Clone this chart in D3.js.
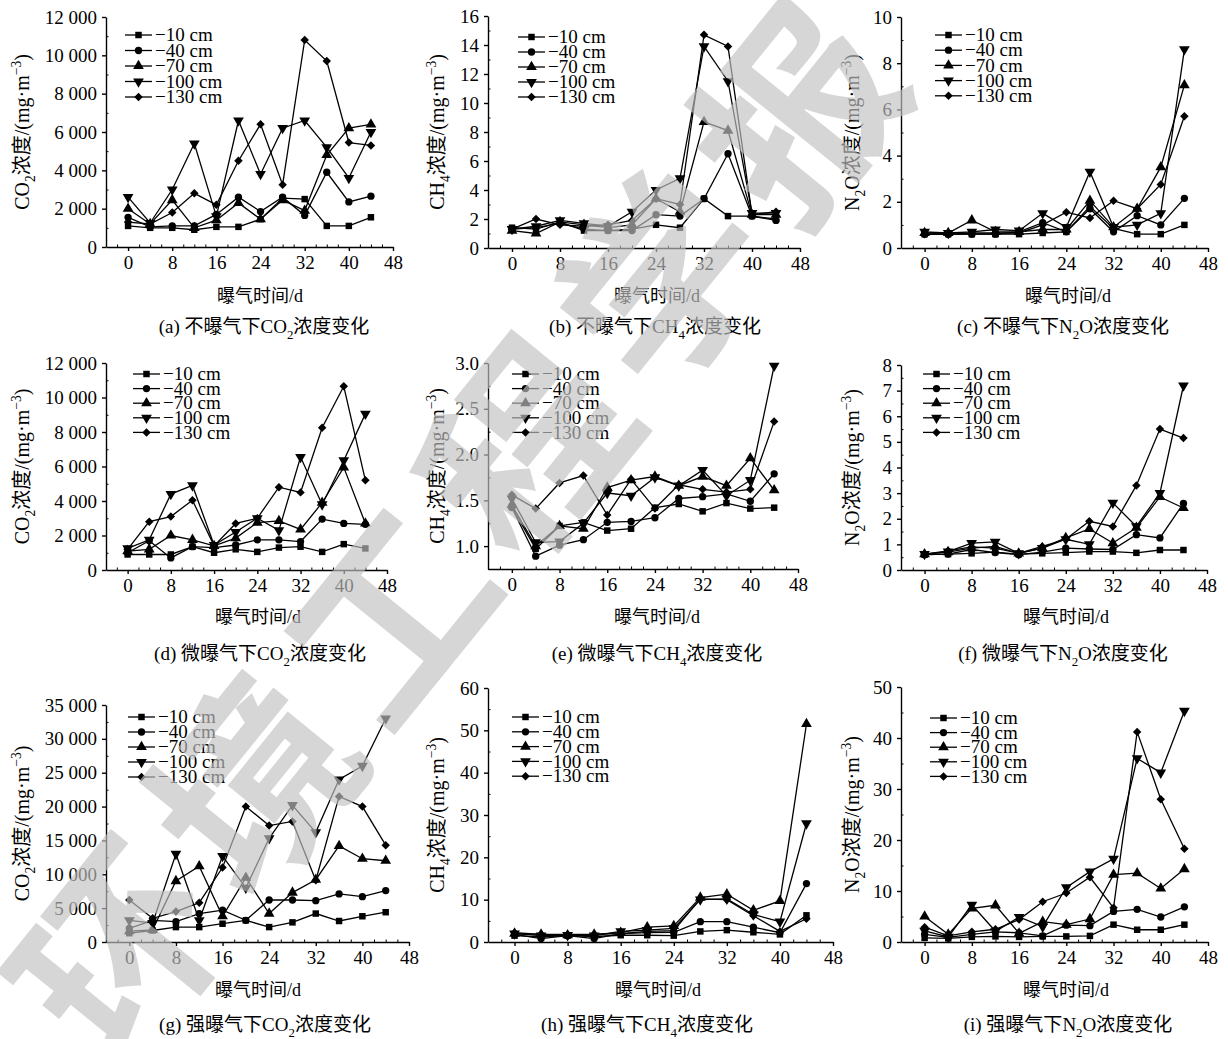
<!DOCTYPE html>
<html>
<head>
<meta charset="utf-8">
<script src="https://cdn.jsdelivr.net/npm/d3@7"></script>
<style>
body { margin: 0; background: #fff; }
svg { display: block; }
text { font-family: "Liberation Serif", "Noto Sans CJK SC", serif; }
</style>
</head>
<body>
<svg id="chart" width="1228" height="1039"></svg>
<script>
var days = [0, 4, 8, 12, 16, 20, 24, 28, 32, 36, 40, 44];
var depthLabels = ["\u221210 cm", "\u221240 cm", "\u221270 cm", "\u2212100 cm", "\u2212130 cm"];
var xTicks = [0, 8, 16, 24, 32, 40, 48];

// (a) 不曝气 CO2
var co2None = [
    [1100, 1000, 1000, 900, 1050, 1050, 1450, 2550, 2500, 1100, 1100, 1550],
    [1550, 1050, 1100, 1100, 1700, 2600, 1850, 2600, 1650, 3900, 2350, 2650],
    [2000, 1200, 2450, 1000, 1400, 2300, 1450, 2450, 1900, 4800, 6200, 6400],
    [2600, 1250, 3000, 5400, 1600, 6600, 3800, 6200, 6600, 5200, 3600, 6000],
    [1300, 1200, 1800, 2800, 2200, 4500, 6400, 3250, 10800, 9700, 5450, 5300]
];
// (b) 不曝气 CH4
var ch4None = [
    [1.4, 1.3, 1.8, 1.2, 1.2, 1.3, 1.6, 1.4, 3.4, 2.2, 2.2, 2.0],
    [1.3, 1.4, 1.7, 1.3, 1.2, 1.2, 2.3, 2.2, 3.4, 6.5, 2.2, 1.9],
    [1.2, 1.0, 1.8, 1.6, 1.4, 1.6, 3.4, 2.5, 8.7, 8.1, 2.3, 2.3],
    [1.3, 1.5, 1.9, 1.7, 1.5, 2.5, 4.0, 4.8, 13.9, 11.5, 2.4, 2.4],
    [1.3, 2.0, 1.6, 1.5, 1.6, 1.9, 3.4, 3.0, 14.7, 13.9, 2.3, 2.5]
];
// (c) 不曝气 N2O
var n2oNone = [
    [0.6, 0.6, 0.6, 0.6, 0.6, 0.65, 0.7, 1.8, 0.85, 0.6, 0.6, 1.0],
    [0.6, 0.6, 0.6, 0.6, 0.7, 1.1, 0.7, 1.7, 0.7, 1.4, 1.0, 2.15],
    [0.65, 0.65, 1.2, 0.7, 0.7, 0.8, 0.8, 2.05, 0.9, 1.7, 3.5, 7.05],
    [0.7, 0.65, 0.7, 0.8, 0.75, 1.5, 0.9, 3.3, 0.9, 1.0, 1.5, 8.6],
    [0.6, 0.6, 0.65, 0.65, 0.65, 1.0, 1.55, 1.3, 2.05, 1.7, 2.75, 5.7]
];
// (d) 微曝气 CO2
var co2Low = [
    [900, 900, 900, 1350, 1000, 1200, 1050, 1300, 1350, 1050, 1500, 1250],
    [1000, 1700, 700, 1350, 1300, 1450, 1750, 1750, 1650, 2950, 2700, 2650],
    [1100, 1200, 2000, 1750, 1400, 1850, 2750, 2850, 2350, 3900, 5950, 2700],
    [1250, 1750, 4400, 4900, 1450, 2200, 3000, 2300, 6550, 3800, 6350, 9050],
    [1200, 2800, 3100, 4050, 1400, 2700, 3000, 4800, 4500, 8250, 10650, 5200]
];
// (e) 微曝气 CH4
var ch4Low = [
    [1.43, 0.97, 1.22, 1.26, 1.17, 1.19, 1.42, 1.46, 1.38, 1.47, 1.41, 1.42],
    [1.42, 0.89, 1.01, 1.07, 1.26, 1.27, 1.31, 1.52, 1.54, 1.57, 1.49, 1.79],
    [1.45, 1.0, 1.22, 1.19, 1.64, 1.72, 1.76, 1.66, 1.76, 1.66, 1.96, 1.61],
    [1.52, 1.04, 1.05, 1.25, 1.58, 1.55, 1.75, 1.66, 1.83, 1.55, 1.72, 2.97],
    [1.56, 1.41, 1.69, 1.77, 1.34, 1.73, 1.41, 1.67, 1.62, 1.59, 1.62, 2.36]
];
// (f) 微曝气 N2O
var n2oLow = [
    [0.6, 0.62, 0.65, 0.7, 0.62, 0.65, 0.68, 0.72, 0.72, 0.67, 0.78, 0.78],
    [0.6, 0.62, 0.8, 0.68, 0.6, 0.7, 0.85, 0.82, 0.8, 1.38, 1.25, 2.6],
    [0.62, 0.7, 0.85, 0.92, 0.65, 0.85, 1.25, 1.6, 1.05, 1.65, 2.85, 2.42],
    [0.62, 0.72, 1.05, 1.1, 0.65, 0.85, 1.2, 1.0, 2.62, 1.7, 3.0, 7.2],
    [0.62, 0.75, 0.9, 0.85, 0.65, 0.92, 1.2, 1.9, 1.7, 3.3, 5.5, 5.15]
];
// (g) 强曝气 CO2
var co2High = [
    [1300, 1700, 2200, 2200, 2700, 3200, 2200, 2900, 4200, 3100, 3800, 4400],
    [2000, 3200, 3000, 4200, 4700, 3200, 6200, 6200, 6100, 7100, 6700, 7600],
    [1600, 1800, 9000, 11200, 3800, 9500, 4200, 7300, 9200, 14200, 12300, 12000],
    [3200, 2800, 13000, 3200, 12700, 8000, 15300, 20200, 16200, 24000, 26000, 33000],
    [6200, 3500, 4500, 5800, 11000, 20000, 17200, 17800, 9100, 21500, 20000, 14300]
];
// (h) 强曝气 CH4
var ch4High = [
    [1.5, 1.2, 1.5, 1.3, 1.6, 1.6, 1.5, 2.5, 2.8, 2.3, 1.8, 6.3],
    [1.8, 0.8, 1.5, 0.8, 2.0, 2.2, 2.3, 4.8, 4.8, 3.5, 2.2, 13.8],
    [2.0, 1.8, 1.6, 1.8, 2.2, 3.5, 3.8, 10.5, 11.3, 7.5, 9.7, 51.5],
    [2.0, 1.5, 1.6, 1.5, 2.5, 2.8, 3.2, 10.0, 10.2, 6.5, 4.8, 28.0],
    [2.2, 1.8, 1.8, 1.8, 2.0, 2.5, 2.7, 10.2, 10.0, 6.2, 2.5, 5.5]
];
// (i) 强曝气 N2O
var n2oHigh = [
    [0.8, 0.7, 1.0, 1.1, 1.0, 1.1, 1.1, 1.2, 3.4, 2.4, 2.4, 3.4],
    [1.5, 0.9, 1.5, 2.0, 1.8, 1.2, 3.3, 3.2, 6.0, 6.4, 4.9, 6.9],
    [5.0, 1.5, 6.6, 7.2, 1.7, 4.0, 3.4, 4.5, 13.2, 13.5, 10.5, 14.3],
    [2.2, 1.0, 7.3, 2.1, 4.9, 3.0, 10.7, 13.8, 16.3, 36.0, 33.2, 45.3],
    [2.9, 1.2, 2.0, 2.5, 4.4, 7.9, 9.6, 12.7, 6.7, 41.2, 28.0, 18.3]
];

var ticksCO2 = [0, 2000, 4000, 6000, 8000, 10000, 12000];
var ticksCO2High = [0, 5000, 10000, 15000, 20000, 25000, 30000, 35000];
var ticksCH4None = [0, 2, 4, 6, 8, 10, 12, 14, 16];
var ticksCH4Low = [1.0, 1.5, 2.0, 2.5, 3.0];
var ticksCH4High = [0, 10, 20, 30, 40, 50, 60];
var ticksN2ONone = [0, 2, 4, 6, 8, 10];
var ticksN2OLow = [0, 1, 2, 3, 4, 5, 6, 7, 8];
var ticksN2OHigh = [0, 10, 20, 30, 40, 50];

var gasParts = {
    CO2: [["CO", ""], ["2", "sub"]],
    CH4: [["CH", ""], ["4", "sub"]],
    N2O: [["N", ""], ["2", "sub"], ["O", ""]]
};

// layout of the nine panels
var panels = [
    {id: "a", data: co2None, gas: "CO2", mode: "不曝气下", yDomain: [0, 12000], yTicks: ticksCO2, fmt: "sp",
     xr: [106, 393], yr: [247, 17], leg: [125, 35, 15.5], ytx: 22, xtx: 260, xty: 302, capx: 264, capy: 333},
    {id: "b", data: ch4None, gas: "CH4", mode: "不曝气下", yDomain: [0, 16], yTicks: ticksCH4None, fmt: "d",
     xr: [488, 800], yr: [248, 16], leg: [518, 37, 15], ytx: 437, xtx: 657, xty: 302, capx: 655, capy: 333},
    {id: "c", data: n2oNone, gas: "N2O", mode: "不曝气下", yDomain: [0, 10], yTicks: ticksN2ONone, fmt: "d",
     xr: [901, 1208], yr: [248, 17], leg: [935, 35, 15.2], ytx: 852, xtx: 1068, xty: 302, capx: 1063, capy: 333},
    {id: "d", data: co2Low, gas: "CO2", mode: "微曝气下", yDomain: [0, 12000], yTicks: ticksCO2, fmt: "sp",
     xr: [106, 387], yr: [570, 363], leg: [133, 374, 14.6], ytx: 22, xtx: 258, xty: 623, capx: 260, capy: 660},
    {id: "e", data: ch4Low, gas: "CH4", mode: "微曝气下", yDomain: [0.75, 3.0], yTicks: ticksCH4Low, fmt: ".1f",
     xr: [488, 798], yr: [569, 363], leg: [512, 374, 14.6], ytx: 437, xtx: 657, xty: 623, capx: 657, capy: 660},
    {id: "f", data: n2oLow, gas: "N2O", mode: "微曝气下", yDomain: [0, 8], yTicks: ticksN2OLow, fmt: "d",
     xr: [901, 1207], yr: [570, 365], leg: [923, 374, 14.6], ytx: 852, xtx: 1066, xty: 623, capx: 1063, capy: 660},
    {id: "g", data: co2High, gas: "CO2", mode: "强曝气下", yDomain: [0, 35000], yTicks: ticksCO2High, fmt: "sp",
     xr: [106, 409], yr: [942, 705], leg: [128, 717, 15], ytx: 22, xtx: 258, xty: 996, capx: 265, capy: 1031},
    {id: "h", data: ch4High, gas: "CH4", mode: "强曝气下", yDomain: [0, 60], yTicks: ticksCH4High, fmt: "d",
     xr: [488, 833], yr: [942, 688], leg: [512, 717, 14.8], ytx: 437, xtx: 658, xty: 996, capx: 647, capy: 1031},
    {id: "i", data: n2oHigh, gas: "N2O", mode: "强曝气下", yDomain: [0, 50], yTicks: ticksN2OHigh, fmt: "d",
     xr: [901, 1208], yr: [942, 687], leg: [930, 718, 14.6], ytx: 852, xtx: 1066, xty: 996, capx: 1068, capy: 1031}
];

var svg = d3.select("#chart");
var tickFont = 19;

// appends plain / sub / sup pieces to a text element
function addParts(textSel, parts, size) {
    var shift = 0;
    parts.forEach(function(p) {
        var t = textSel.append("tspan").text(p[0]);
        var want = 0;
        if (p[1] == "sub") { want = size * 0.3; t.attr("font-size", size * 0.68); }
        if (p[1] == "sup") { want = -size * 0.38; t.attr("font-size", size * 0.68); }
        if (want - shift != 0) t.attr("dy", want - shift);
        shift = want;
    });
}

function markerPath(k) {
    var types = [d3.symbolSquare, d3.symbolCircle, d3.symbolTriangle, d3.symbolTriangle, d3.symbolSquare];
    var sizes = [42, 42, 50, 50, 36];
    return d3.symbol().type(types[k]).size(sizes[k])();
}
function markerRot(k) {
    if (k == 3) return " rotate(180)";
    if (k == 4) return " rotate(45)";
    return "";
}

function tickFormat(fmt) {
    if (fmt == "sp") return function(v) { return d3.format(",")(v).replace(/,/g, " "); };
    return d3.format(fmt);
}

function drawPanel(p) {
    var g = svg.append("g").attr("class", "panel-" + p.id);
    var x = d3.scaleLinear().domain([-4, 48]).range(p.xr);
    var y = d3.scaleLinear().domain(p.yDomain).range(p.yr);
    var fmt = tickFormat(p.fmt);

    // minor ticks
    var xMinor = d3.range(-2, 48, 2).filter(function(v) { return v % 8 != 0; });
    g.append("g").attr("transform", "translate(0," + p.yr[0] + ")")
        .call(d3.axisBottom(x).tickValues(xMinor).tickSize(-2.5).tickSizeOuter(0).tickFormat(""))
        .call(function(a) { a.select(".domain").remove(); });
    var yStep = p.yTicks[1] - p.yTicks[0];
    var yMinor = p.yTicks.slice(0, -1).map(function(v) { return v + yStep / 2; });
    if (p.yTicks[0] > p.yDomain[0]) yMinor.unshift(p.yTicks[0] - yStep / 2);
    g.append("g").attr("transform", "translate(" + p.xr[0] + ",0)")
        .call(d3.axisRight(y).tickValues(yMinor.filter(function(v) { return v >= p.yDomain[0]; })).tickSize(2.5).tickSizeOuter(0).tickFormat(""))
        .call(function(a) { a.select(".domain").remove(); });

    // main axes
    var xAxis = g.append("g").attr("transform", "translate(0," + p.yr[0] + ")")
        .call(d3.axisBottom(x).tickValues(xTicks).tickSize(4).tickSizeOuter(0).tickPadding(5));
    var yAxis = g.append("g").attr("transform", "translate(" + p.xr[0] + ",0)")
        .call(d3.axisLeft(y).tickValues(p.yTicks).tickSize(4).tickSizeOuter(0).tickPadding(5).tickFormat(fmt));
    [xAxis, yAxis].forEach(function(a) {
        a.attr("font-family", null).attr("font-size", null);
        a.selectAll("text").attr("font-size", tickFont).attr("fill", "#000");
        a.selectAll("line, path").attr("stroke", "#000").attr("stroke-width", 1.4);
    });

    // series lines
    var line = d3.line().x(function(d, i) { return x(days[i]); }).y(function(d) { return y(d); });
    p.data.forEach(function(series, k) {
        g.append("path").datum(series)
            .attr("d", line).attr("fill", "none").attr("stroke", "#000").attr("stroke-width", 1.3);
    });
    p.data.forEach(function(series, k) {
        g.selectAll(".m" + k).data(series).enter().append("path")
            .attr("d", markerPath(k))
            .attr("transform", function(d, i) { return "translate(" + x(days[i]) + "," + y(d) + ")" + markerRot(k); })
            .attr("fill", "#000");
    });

    // legend
    var lx = p.leg[0], ly = p.leg[1], ls = p.leg[2];
    depthLabels.forEach(function(lab, k) {
        var yy = ly + k * ls;
        g.append("line").attr("x1", lx).attr("x2", lx + 27).attr("y1", yy).attr("y2", yy)
            .attr("stroke", "#000").attr("stroke-width", 1.3);
        g.append("path").attr("d", markerPath(k))
            .attr("transform", "translate(" + (lx + 13.5) + "," + yy + ")" + markerRot(k));
        g.append("text").attr("x", lx + 30).attr("y", yy).attr("dy", "0.33em")
            .attr("font-size", 19).text(lab);
    });

    // y title
    var yMid = (p.yr[0] + p.yr[1]) / 2;
    var yt = g.append("text").attr("text-anchor", "middle").attr("font-size", 20)
        .attr("transform", "translate(" + p.ytx + "," + yMid + ") rotate(-90)").attr("dy", "0.35em");
    addParts(yt, gasParts[p.gas].concat([["浓度/(mg\u00b7m", ""], ["\u22123", "sup"], [")", ""]]), 20);

    // x title
    g.append("text").attr("x", p.xtx).attr("y", p.xty).attr("text-anchor", "middle")
        .attr("font-size", 18).text("曝气时间/d");

    // caption
    var cap = g.append("text").attr("x", p.capx).attr("y", p.capy).attr("text-anchor", "middle").attr("font-size", 19);
    addParts(cap, [["(" + p.id + ") " + p.mode, ""]].concat(gasParts[p.gas]).concat([["浓度变化", ""]]), 19);
}

panels.forEach(drawPanel);

// watermark of the journal, laid over the charts
svg.append("text")
    .attr("transform", "translate(468,528) rotate(-51)")
    .attr("text-anchor", "middle").attr("dy", "0.35em")
    .attr("font-family", "Noto Sans CJK SC").attr("font-weight", 700)
    .attr("font-size", 198).attr("letter-spacing", 18)
    .style("fill", "#c2c2c2").style("opacity", 0.66)
    .text("环境工程学报");
</script>
</body>
</html>
